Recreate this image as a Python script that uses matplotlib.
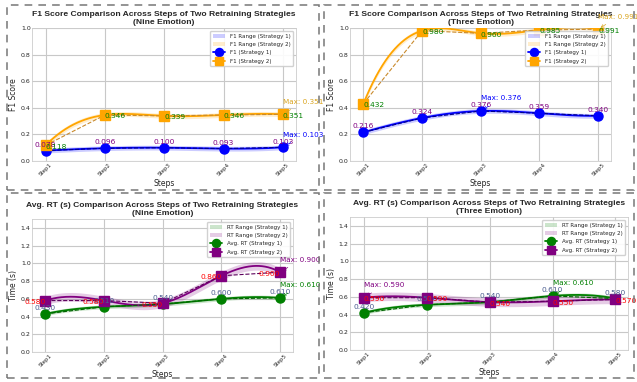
import numpy as np
import matplotlib
matplotlib.use("Agg")
import matplotlib.pyplot as plt
from matplotlib.patches import Rectangle
import seaborn as sns

sns.set_style("whitegrid")
plt.rcParams['font.family'] = ['DejaVu Sans']

steps = ["Step1", "Step2", "Step3", "Step4", "Step5"]

# F1 scores
f1_nine_s1 = [0.078, 0.096, 0.100, 0.093, 0.103]
f1_nine_s2 = [0.118, 0.346, 0.339, 0.346, 0.351]
f1_three_s1 = [0.216, 0.324, 0.376, 0.359, 0.340]
f1_three_s2 = [0.432, 0.980, 0.960, 0.985, 0.991]

# average reaction time (s)
rt_nine_s1 = [0.430, 0.510, 0.540, 0.600, 0.610]
rt_nine_s2 = [0.580, 0.580, 0.550, 0.860, 0.900]
rt_three_s1 = [0.420, 0.510, 0.540, 0.610, 0.580]
rt_three_s2 = [0.590, 0.590, 0.540, 0.550, 0.570]


def spline(x, y, xs):
    # cubic spline, not-a-knot ends
    n = len(x)
    m = n - 1
    A = np.zeros((4 * m, 4 * m))
    b = np.zeros(4 * m)
    r = 0
    for i in range(m):
        h = x[i + 1] - x[i]
        A[r, 4 * i] = 1
        b[r] = y[i]
        r += 1
        A[r, 4 * i:4 * i + 4] = [1, h, h * h, h ** 3]
        b[r] = y[i + 1]
        r += 1
    for i in range(m - 1):
        h = x[i + 1] - x[i]
        A[r, 4 * i:4 * i + 4] = [0, 1, 2 * h, 3 * h * h]
        A[r, 4 * (i + 1) + 1] = -1
        r += 1
        A[r, 4 * i:4 * i + 4] = [0, 0, 2, 6 * h]
        A[r, 4 * (i + 1) + 2] = -2
        r += 1
    A[r, 3] = 1
    A[r, 7] = -1
    r += 1
    A[r, 4 * (m - 2) + 3] = 1
    A[r, 4 * (m - 1) + 3] = -1
    c = np.linalg.solve(A, b)
    out = np.zeros_like(xs)
    for k, t in enumerate(xs):
        i = min(max(np.searchsorted(x, t) - 1, 0), m - 1)
        d = t - x[i]
        out[k] = c[4 * i] + c[4 * i + 1] * d + c[4 * i + 2] * d ** 2 + c[4 * i + 3] * d ** 3
    return out


def panel(ax, y1, y2, kind, title, red_side):
    x = np.arange(len(steps), dtype=float)
    xs = np.linspace(0, len(steps) - 1, 300)
    if kind == "f1":
        cols = ("blue", "orange")
        dcols = ("darkblue", "#c98a2c")
        mcols = ("blue", "goldenrod")
        lab_cols = ("purple", "green")
        bands = (0.018, 0.018)
        rng = "F1 Range"
        name = "F1"
    else:
        cols = ("green", "purple")
        dcols = ("darkgreen", "#5c005c")
        mcols = ("green", "purple")
        lab_cols = ("#4b5d8f", "red")
        bands = (0.022, 0.048)
        rng = "RT Range"
        name = "Avg. RT"
    markers = ("o", "s")
    for j, y in enumerate((y1, y2)):
        y = np.array(y)
        ys = spline(x, y, xs)
        ax.fill_between(xs, ys - bands[j], ys + bands[j], color=cols[j], alpha=0.2,
                        lw=0, label=f"{rng} (Strategy {j + 1})", zorder=2)
        ax.plot(xs, ys, color=cols[j], lw=1.3, zorder=3)
        ax.plot(x, y, "--", color=dcols[j], lw=0.8, zorder=4)
        ax.plot(x, y, linestyle="none", marker=markers[j], ms=6.5, color=cols[j], zorder=5)

    for j, y in enumerate((y1, y2)):
        ax.plot([], [], "-", marker=markers[j], ms=6.5, color=cols[j], lw=1.3,
                label=f"{name} (Strategy {j + 1})")

    # value labels
    for i in range(len(steps)):
        ax.annotate(f"{y1[i]:.3f}", (x[i], y1[i]), xytext=(0, 2), textcoords="offset points",
                    ha="center", va="bottom", fontsize=5.4, color=lab_cols[0], zorder=6)
        if red_side == "right":
            ax.annotate(f"{y2[i]:.3f}", (x[i], y2[i]), xytext=(0, -1), textcoords="offset points",
                        ha="left", va="center", fontsize=5.4, color=lab_cols[1], zorder=6)
        else:
            ax.annotate(f"{y2[i]:.3f}", (x[i], y2[i]), xytext=(0, -1), textcoords="offset points",
                        ha="right", va="center", fontsize=5.4, color=lab_cols[1], zorder=6)

    # max markers
    for j, y in enumerate((y1, y2)):
        k = int(np.argmax(y))
        ax.annotate(f"Max: {y[k]:.3f}", (x[k], y[k]), xytext=(0, 9), textcoords="offset points",
                    ha="left", va="center", fontsize=5.2, color=mcols[j], zorder=7,
                    arrowprops=dict(arrowstyle="->", color=mcols[j], lw=0.5))

    ax.set_title(title, fontsize=6.1, fontweight="bold", pad=3, family="Liberation Sans")
    ax.set_xlabel("Steps", fontsize=5.5, labelpad=1)
    ax.set_xticks(x)
    ax.set_xticklabels(steps, rotation=45, fontsize=4)
    ax.tick_params(axis="both", pad=1, length=0)
    ax.tick_params(axis="y", labelsize=4.5)
    ax.legend(loc="upper right", fontsize=4.0, frameon=True, framealpha=0.9,
              borderpad=0.5, labelspacing=0.6, handlelength=2.2, markerscale=0.9)
    for s in ax.spines.values():
        s.set_color("#cccccc")
        s.set_linewidth(0.6)
    ax.grid(True, color="#c8c8c8", lw=0.8)


fig = plt.figure(figsize=(6.37, 3.82), dpi=100)
W, H = 637.0, 382.0


def box(l, t, r, b):
    return [l / W, (H - b) / H, (r - l) / W, (b - t) / H]


ax1 = fig.add_axes(box(32, 28, 296, 161))
ax2 = fig.add_axes(box(350, 28, 611, 161))
ax3 = fig.add_axes(box(32, 219, 293, 352))
ax4 = fig.add_axes(box(350, 217, 628, 350))

panel(ax1, f1_nine_s1, f1_nine_s2, "f1",
      "F1 Score Comparison Across Steps of Two Retraining Strategies\n(Nine Emotion)", "right")
panel(ax2, f1_three_s1, f1_three_s2, "f1",
      "F1 Score Comparison Across Steps of Two Retraining Strategies\n(Three Emotion)", "right")
panel(ax3, rt_nine_s1, rt_nine_s2, "rt",
      "Avg. RT (s) Comparison Across Steps of Two Retraining Strategies\n(Nine Emotion)", "left")
panel(ax4, rt_three_s1, rt_three_s2, "rt",
      "Avg. RT (s) Comparison Across Steps of Two Retraining Strategies\n(Three Emotion)", "right")

for ax in (ax1, ax2):
    ax.set_ylim(0, 1.0)
    ax.set_yticks(np.arange(0, 1.01, 0.2))
    ax.set_ylabel("F1 Score", fontsize=5.5, labelpad=2)
for ax in (ax3, ax4):
    ax.set_ylim(0, 1.5)
    ax.set_yticks(np.arange(0, 1.41, 0.2))
    ax.set_ylabel("Time (s)", fontsize=5.5, labelpad=2)
for ax in (ax1, ax2, ax3):
    ax.set_xlim(-0.23, 4.22)
ax4.set_xlim(-0.22, 4.2)

# dashed frames round each panel
for (l, t, r, b) in [(7, 5, 319, 190), (324, 5, 634, 190), (7, 193, 319, 378), (324, 193, 634, 378)]:
    fig.patches.append(Rectangle((l / W, (H - b) / H), (r - l) / W, (b - t) / H,
                                 transform=fig.transFigure, fill=False, edgecolor="#777777",
                                 lw=1.1, linestyle=(0, (5, 4))))

fig.savefig("out.png", dpi=100)
